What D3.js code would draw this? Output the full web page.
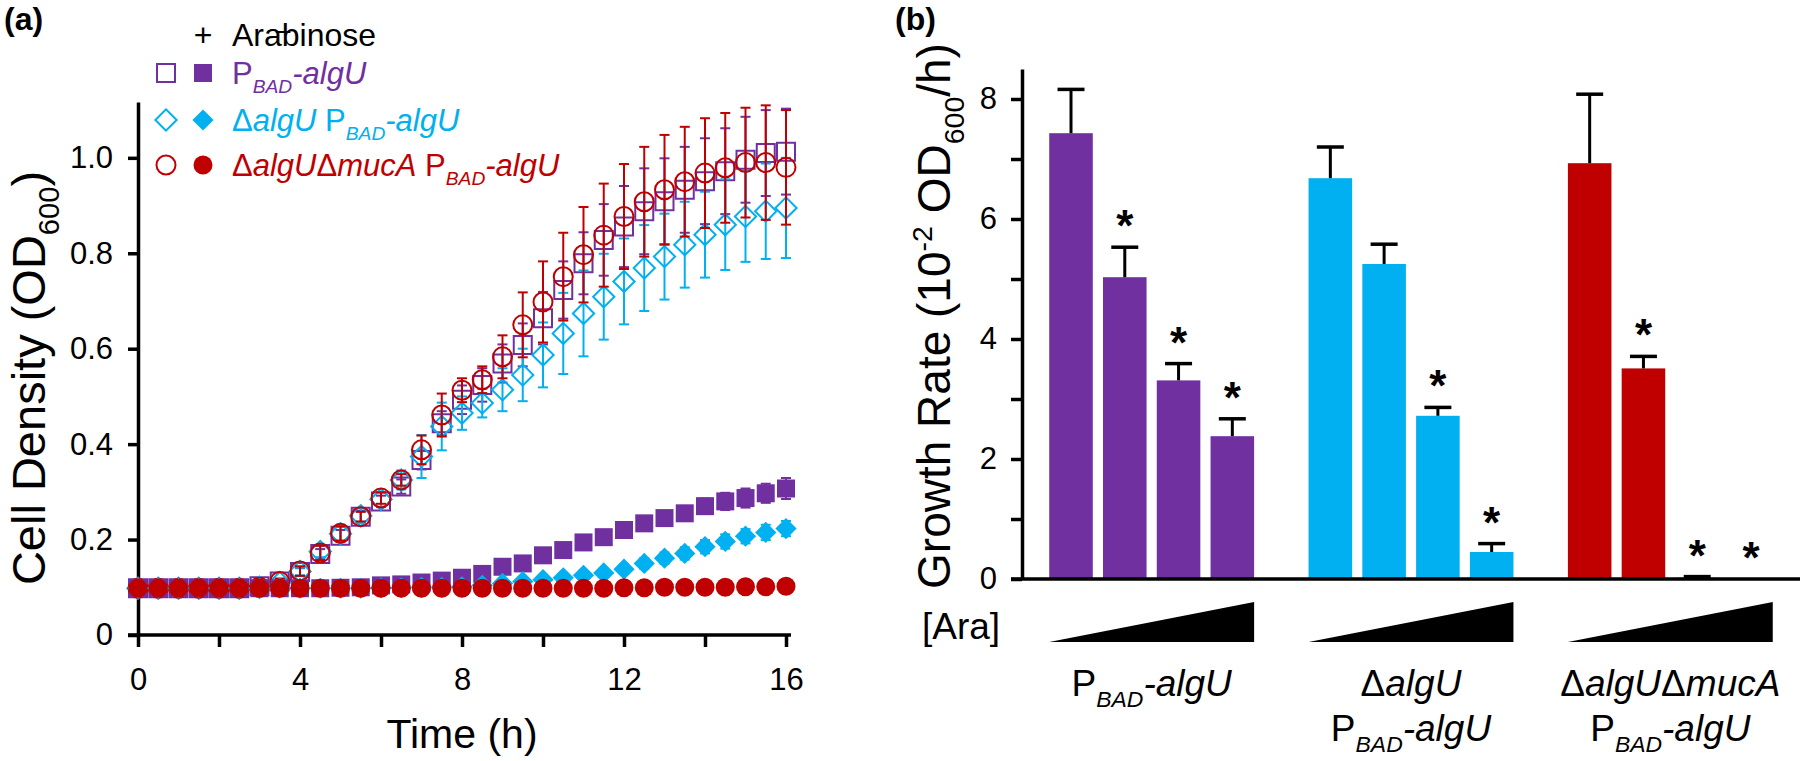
<!DOCTYPE html>
<html><head><meta charset="utf-8">
<script src="https://cdn.jsdelivr.net/npm/d3@7"></script>
<style>
body{margin:0;background:#fff}
svg{font-family:"Liberation Sans",Arial,Helvetica,sans-serif;display:block}
</style></head>
<body><svg id="c" width="1800" height="761"></svg>
<script>
// ---------------- DATA ----------------
const timeH = [0,0.5,1,1.5,2,2.5,3,3.5,4,4.5,5,5.5,6,6.5,7,7.5,8,8.5,9,9.5,10,10.5,11,11.5,12,12.5,13,13.5,14,14.5,15,15.5,16];
// open symbols (no arabinose)
const pbadOpen    = [0.098,0.098,0.098,0.098,0.098,0.098,0.102,0.112,0.132,0.170,0.208,0.248,0.280,0.311,0.367,0.444,0.493,0.524,0.569,0.608,0.664,0.723,0.779,0.828,0.856,0.888,0.909,0.933,0.951,0.972,0.996,1.010,1.013];
const pbadOpenErr = [0.004,0.004,0.004,0.004,0.004,0.004,0.005,0.006,0.008,0.010,0.012,0.012,0.012,0.015,0.020,0.025,0.030,0.035,0.040,0.045,0.055,0.060,0.065,0.075,0.085,0.090,0.090,0.090,0.090,0.090,0.090,0.090,0.090];
const algUOpen    = [0.098,0.098,0.098,0.098,0.098,0.098,0.100,0.110,0.133,0.175,0.212,0.250,0.284,0.325,0.374,0.437,0.465,0.486,0.514,0.545,0.587,0.632,0.674,0.709,0.741,0.769,0.793,0.818,0.839,0.860,0.877,0.888,0.895];
const algUOpenErr = [0.004,0.004,0.004,0.004,0.004,0.004,0.005,0.006,0.008,0.012,0.015,0.015,0.015,0.020,0.045,0.050,0.035,0.030,0.045,0.055,0.068,0.085,0.090,0.090,0.090,0.090,0.090,0.090,0.090,0.095,0.095,0.100,0.105];
const mucAOpen    = [0.098,0.098,0.098,0.098,0.098,0.098,0.100,0.112,0.134,0.172,0.213,0.248,0.287,0.325,0.388,0.461,0.513,0.535,0.583,0.650,0.698,0.751,0.797,0.838,0.877,0.908,0.933,0.950,0.968,0.979,0.990,0.990,0.980];
const mucAOpenErr = [0.004,0.004,0.004,0.004,0.004,0.004,0.005,0.006,0.010,0.015,0.015,0.010,0.012,0.012,0.030,0.045,0.025,0.028,0.045,0.068,0.085,0.092,0.100,0.108,0.110,0.115,0.115,0.115,0.115,0.115,0.115,0.120,0.120];
// filled symbols (+ arabinose)
const pbadFilled    = [0.098,0.098,0.098,0.098,0.098,0.098,0.098,0.098,0.098,0.098,0.099,0.100,0.104,0.106,0.110,0.114,0.120,0.128,0.143,0.150,0.167,0.178,0.194,0.205,0.220,0.234,0.245,0.255,0.270,0.280,0.287,0.297,0.307];
const pbadFilledErr = [0.003,0.003,0.003,0.003,0.003,0.003,0.003,0.003,0.003,0.003,0.003,0.003,0.004,0.004,0.004,0.005,0.005,0.005,0.006,0.006,0.007,0.008,0.008,0.009,0.010,0.011,0.012,0.014,0.016,0.018,0.020,0.020,0.022];
const algUFilled    = [0.098,0.098,0.098,0.098,0.098,0.098,0.098,0.098,0.098,0.098,0.098,0.098,0.099,0.099,0.100,0.100,0.101,0.104,0.108,0.112,0.116,0.120,0.125,0.130,0.138,0.150,0.161,0.171,0.185,0.196,0.207,0.215,0.223];
const algUFilledErr = [0.003,0.003,0.003,0.003,0.003,0.003,0.003,0.003,0.003,0.003,0.003,0.003,0.003,0.003,0.003,0.004,0.004,0.004,0.005,0.005,0.006,0.006,0.008,0.009,0.010,0.011,0.012,0.013,0.014,0.015,0.015,0.016,0.016];
const mucAFilled    = [0.098,0.098,0.098,0.098,0.098,0.098,0.098,0.098,0.098,0.098,0.098,0.098,0.098,0.098,0.098,0.098,0.098,0.098,0.098,0.098,0.098,0.098,0.098,0.098,0.099,0.099,0.100,0.100,0.100,0.100,0.101,0.101,0.102];
const mucAFilledErr = [0.003,0.003,0.003,0.003,0.003,0.003,0.003,0.003,0.003,0.003,0.003,0.003,0.003,0.003,0.003,0.003,0.003,0.003,0.003,0.003,0.003,0.003,0.003,0.003,0.004,0.004,0.004,0.005,0.005,0.006,0.006,0.007,0.008];
const timeTicks = [0,2,4,6,8,10,12,14,16];
const densityTicks = [0,0.2,0.4,0.6,0.8,1.0];

// panel (b)
const strains = ["pbad","algU","mucA"];
const araLevels = [0,1,2,3];
const ratePbad = [7.43,5.03,3.31,2.38];
const ratePbadErr = [0.73,0.50,0.28,0.29];
const ratePbadSig = [false,true,true,true];
const rateAlgU = [6.68,5.25,2.72,0.45];
const rateAlgUErr = [0.52,0.33,0.14,0.14];
const rateAlgUSig = [false,false,true,true];
const rateMucA = [6.93,3.51,0.02,0];
const rateMucAErr = [1.15,0.20,0.02,0];
const rateMucASig = [false,true,true,true];
const rateTicks = [0,1,2,3,4,5,6,7,8];

// ---------------- SETUP ----------------
const C = {purple:"#7030A0", cyan:"#00B0F0", red:"#C00000"};
const svg = d3.select("#c");

function rich(sel, segs, fs){
  let shift = 0;
  segs.forEach(s=>{
    const target = s.sub ? 0.30*fs : (s.sup ? -0.40*fs : 0);
    const ts = sel.append("tspan").text(s.t);
    if (target - shift !== 0) ts.attr("dy", target - shift);
    shift = target;
    if (s.sub || s.sup) ts.attr("font-size", 0.62*fs);
    if (s.it) ts.attr("font-style","italic");
  });
  return sel;
}
const PBAD = [{t:"P"},{t:"BAD",sub:1,it:1},{t:"-algU",it:1}];
const DALGU = [{t:"Δ"},{t:"algU",it:1}];
const DMUCA = [{t:"Δ"},{t:"algU",it:1},{t:"Δ"},{t:"mucA",it:1}];

function marker(g, shape, filled, color, x, y){
  let el;
  if (shape==="square"){
    const s = 18;
    el = g.append("path").attr("d", d3.symbol(d3.symbolSquare, s*s)()).attr("transform",`translate(${x},${y})`);
  } else if (shape==="diamond"){
    const s = 15;
    el = g.append("path").attr("d", d3.symbol(d3.symbolSquare, s*s)()).attr("transform",`translate(${x},${y}) rotate(45)`);
  } else {
    el = g.append("path").attr("d", d3.symbol(d3.symbolCircle, Math.PI*9.5*9.5)()).attr("transform",`translate(${x},${y})`);
  }
  if (filled) el.attr("fill", color).attr("stroke", "none");
  else el.attr("fill","none").attr("stroke", color).attr("stroke-width", 2);
  return el;
}

// ---------------- PANEL (a) ----------------
const xL = d3.scaleLinear().domain([0,16]).range([138,786]);
const yL = d3.scaleLinear().domain([0,1.117]).range([635,102]);

const gA = svg.append("g");
const axL = gA.append("g").attr("transform","translate(138,0)")
  .call(d3.axisLeft(yL).tickValues(densityTicks).tickSize(10).tickSizeOuter(0).tickPadding(15)
    .tickFormat(d=> d===0 ? "0" : d3.format(".1f")(d)));
const axB = gA.append("g").attr("transform","translate(0,635)")
  .call(d3.axisBottom(xL).tickValues(timeTicks).tickSize(12).tickSizeOuter(0).tickPadding(21)
    .tickFormat(d=> d%4===0 ? d : ""));
[axL, axB].forEach(a=>{
  a.selectAll("path,line").attr("stroke","#000").attr("stroke-width",3.5);
  a.selectAll("text").attr("fill","#000").style("font-size","31px");
});
axB.select(".domain").attr("d","M128,0H791");

const leftSeries = [
  {v:pbadOpen, e:pbadOpenErr, c:C.purple, shape:"square", filled:false},
  {v:algUOpen, e:algUOpenErr, c:C.cyan, shape:"diamond", filled:false},
  {v:mucAOpen, e:mucAOpenErr, c:C.red, shape:"circle", filled:false},
  {v:pbadFilled, e:pbadFilledErr, c:C.purple, shape:"square", filled:true},
  {v:algUFilled, e:algUFilledErr, c:C.cyan, shape:"diamond", filled:true},
  {v:mucAFilled, e:mucAFilledErr, c:C.red, shape:"circle", filled:true},
];
leftSeries.forEach(s=>{
  const g = gA.append("g");
  timeH.forEach((t,i)=>{
    const x = xL(t), y1 = yL(s.v[i]-s.e[i]), y2 = yL(s.v[i]+s.e[i]);
    g.append("line").attr("x1",x).attr("x2",x).attr("y1",y1).attr("y2",y2).attr("stroke",s.c).attr("stroke-width",2);
    [y1,y2].forEach(yy=> g.append("line").attr("x1",x-5).attr("x2",x+5).attr("y1",yy).attr("y2",yy).attr("stroke",s.c).attr("stroke-width",2));
    marker(g, s.shape, s.filled, s.c, x, yL(s.v[i]));
  });
});

// axis titles
gA.append("text").attr("x", 462).attr("y", 748).attr("text-anchor","middle").style("font-size","41px").text("Time (h)");
rich(gA.append("text").attr("transform","translate(45,378) rotate(-90)").attr("text-anchor","middle").style("font-size","47px"),
  [{t:"Cell Density (OD"},{t:"600",sub:1},{t:")"}], 47);

// panel label
svg.append("text").attr("x",4).attr("y",30).style("font-size","32px").style("font-weight","bold").text("(a)");

// legend
const legRows = [
  {y:73, c:C.purple, shape:"square", segs:PBAD},
  {y:120, c:C.cyan, shape:"diamond", segs:[...DALGU,{t:" "},...PBAD]},
  {y:165, c:C.red, shape:"circle", segs:[...DMUCA,{t:" "},...PBAD]},
];
const gLeg = svg.append("g");
gLeg.append("text").attr("x",203).attr("y",46).attr("text-anchor","middle").style("font-size","32px").text("+");
gLeg.append("text").attr("x",232).attr("y",46).style("font-size","32px").text("Arabinose");
gLeg.append("text").attr("x",283).attr("y",42).attr("text-anchor","middle").style("font-size","30px").text("−");
legRows.forEach(r=>{
  marker(gLeg, r.shape, false, r.c, 166, r.y);
  marker(gLeg, r.shape, true, r.c, 203, r.y);
  rich(gLeg.append("text").attr("x",232).attr("y",r.y+11).attr("fill",r.c).style("font-size","31px"), r.segs, 31);
});

// ---------------- PANEL (b) ----------------
const yR = d3.scaleLinear().domain([0,8.5]).range([579,69]);
const xG = d3.scaleBand().domain(strains).range([1022,1800]).paddingInner(0.21).paddingOuter(0.105);
const xB = d3.scaleBand().domain(araLevels).range([0,xG.bandwidth()]).paddingInner(0.19);

const gB = svg.append("g");
const barData = [
  {s:"pbad", v:ratePbad, e:ratePbadErr, sig:ratePbadSig, c:C.purple},
  {s:"algU", v:rateAlgU, e:rateAlgUErr, sig:rateAlgUSig, c:C.cyan},
  {s:"mucA", v:rateMucA, e:rateMucAErr, sig:rateMucASig, c:C.red},
];
barData.forEach(b=>{
  araLevels.forEach(k=>{
    const x0 = xG(b.s)+xB(k), w = xB.bandwidth(), cx = x0+w/2;
    const top = yR(b.v[k]), etop = yR(b.v[k]+b.e[k]);
    if (b.v[k] > 0) gB.append("rect").attr("x",x0).attr("y",top).attr("width",w).attr("height",yR(0)-top).attr("fill",b.c);
    if (b.e[k] > 0){
      gB.append("line").attr("x1",cx).attr("x2",cx).attr("y1",top).attr("y2",etop).attr("stroke","#000").attr("stroke-width",3);
      gB.append("line").attr("x1",cx-13.5).attr("x2",cx+13.5).attr("y1",etop).attr("y2",etop).attr("stroke","#000").attr("stroke-width",3.5);
    }
    if (b.sig[k]){
      gB.append("text").attr("x",cx).attr("y",etop-31+0.57*44).attr("text-anchor","middle")
        .style("font-size","44px").style("font-weight","bold").text("*");
    }
  });
  // arabinose ramp triangle
  const xa = xG(b.s), xb = xG(b.s)+xG.bandwidth();
  const p = d3.path(); p.moveTo(xa,642); p.lineTo(xb,642); p.lineTo(xb,602); p.closePath();
  gB.append("path").attr("d",p.toString()).attr("fill","#000");
});

const axR = gB.append("g").attr("transform","translate(1022,0)")
  .call(d3.axisLeft(yR).tickValues(rateTicks).tickSize(11).tickSizeOuter(0).tickPadding(14)
    .tickFormat(d=> d%2===0 ? d : ""));
axR.selectAll("path,line").attr("stroke","#000").attr("stroke-width",3.5);
axR.selectAll("text").attr("fill","#000").style("font-size","31px");
gB.append("line").attr("x1",1011).attr("x2",1800).attr("y1",yR(0)).attr("y2",yR(0)).attr("stroke","#000").attr("stroke-width",3.5);

rich(gB.append("text").attr("transform","translate(950,316) rotate(-90)").attr("text-anchor","middle").style("font-size","46px"),
  [{t:"Growth Rate (10"},{t:"-2",sup:1},{t:" OD"},{t:"600",sub:1},{t:"/h)"}], 46);

gB.append("text").attr("x",922).attr("y",639).style("font-size","37px").text("[Ara]");

const groupLabels = [
  {s:"pbad", lines:[PBAD]},
  {s:"algU", lines:[DALGU, PBAD]},
  {s:"mucA", lines:[DMUCA, PBAD]},
];
groupLabels.forEach(gl=>{
  const cx = xG(gl.s)+xG.bandwidth()/2;
  gl.lines.forEach((segs,i)=>{
    rich(gB.append("text").attr("x",cx).attr("y",696+45*i).attr("text-anchor","middle").style("font-size","37px"), segs, 37);
  });
});

svg.append("text").attr("x",895).attr("y",30).style("font-size","32px").style("font-weight","bold").text("(b)");
</script></body></html>
